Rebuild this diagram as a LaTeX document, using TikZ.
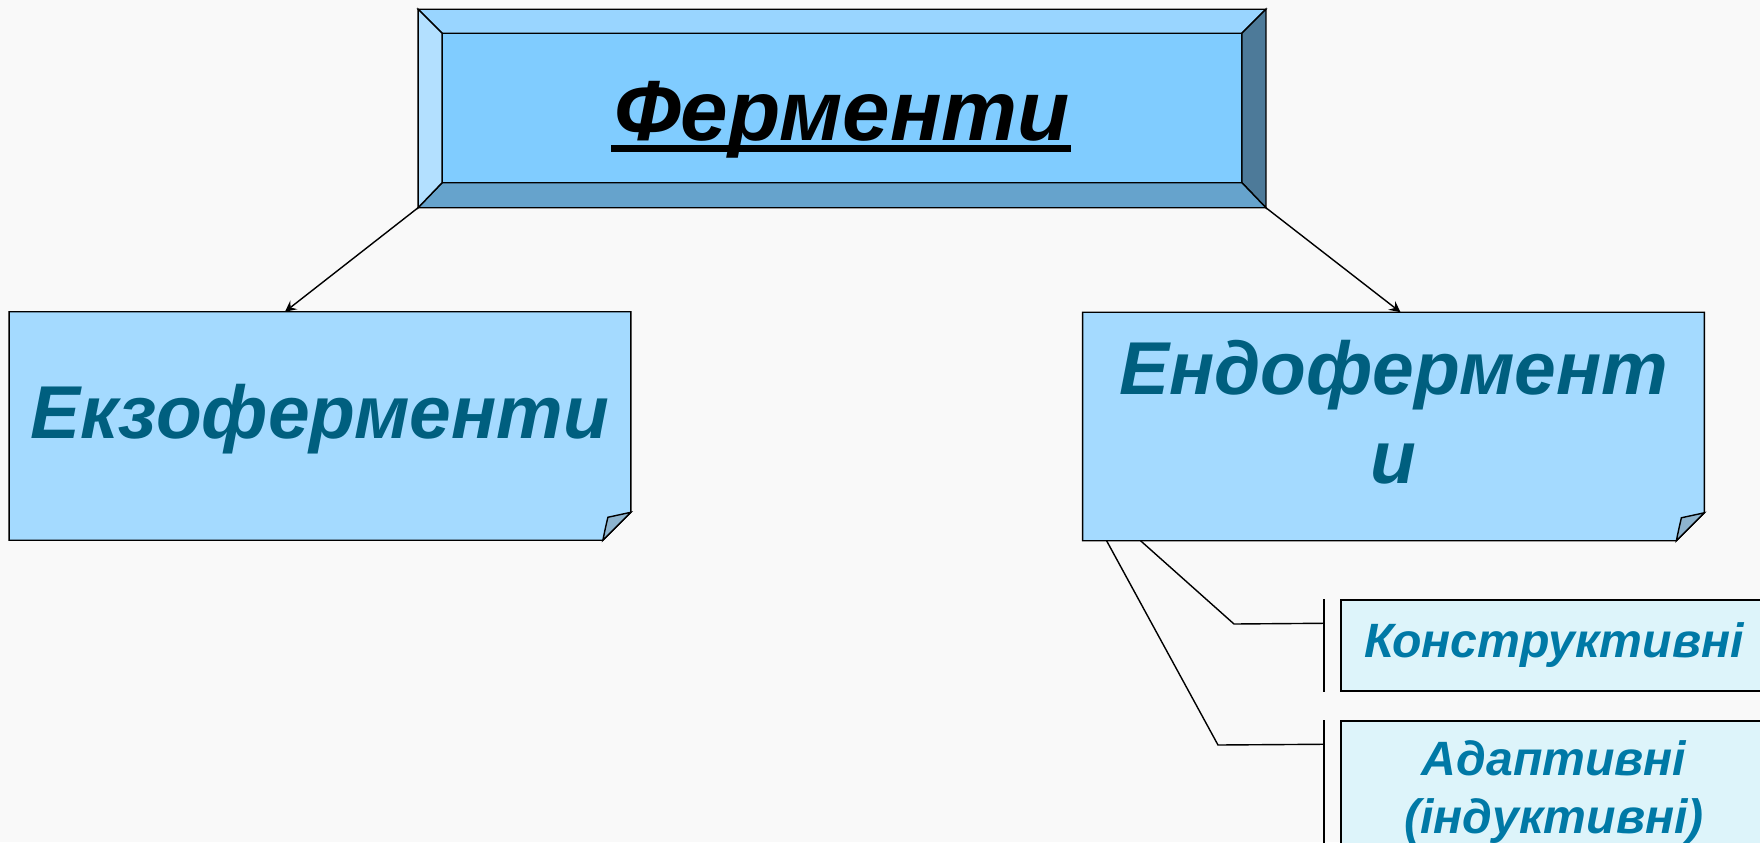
\documentclass[tikz,border=0pt]{standalone}
\usepackage{fontspec}
\setmainfont{Liberation Sans}
\usetikzlibrary{calc,backgrounds}
\definecolor{bgcol}{HTML}{F9F9F9}
\definecolor{bevtop}{HTML}{99D5FF}
\definecolor{bevleft}{HTML}{B3E0FF}
\definecolor{bevface}{HTML}{80CCFF}
\definecolor{bevbot}{HTML}{66A3CC}
\definecolor{bevright}{HTML}{4D7A99}
\definecolor{notefill}{HTML}{A4DAFF}
\definecolor{foldfill}{HTML}{8DB4CF}
\definecolor{notetext}{HTML}{005F7F}
\definecolor{smallfill}{HTML}{DDF4FA}
\definecolor{smalltext}{HTML}{0079A6}
\tikzset{
  notebox/.style={minimum width=6.2cm, minimum height=2.27cm, inner sep=0pt, align=center,
    text=notetext, font=\fontsize{21.3}{25.3}\selectfont\bfseries\itshape},
  smallbox/.style={draw, fill=smallfill, minimum width=4.26cm, inner sep=0pt, align=center,
    text=smalltext, font=\fontsize{13.7}{16.5}\selectfont\bfseries\itshape}
}
\begin{document}
\begin{tikzpicture}[x=0.01cm, y=-0.01cm, line width=0.6pt]
\begin{pgfonlayer}{background}
\fill[bgcol] (0,0) rectangle (1760,842);
\end{pgfonlayer}
\useasboundingbox (0,0) rectangle (1760,842);

\node[minimum width=8.46cm, minimum height=1.97cm, inner sep=0pt] (enz) at (842,108.5) {};
\node[inner sep=0pt, anchor=base, font=\fontsize{24.3}{28}\selectfont\bfseries\itshape] (title) at (842,140) {Ферменти};
\fill ($(title.base west)+(-2,5)$) rectangle ($(title.base east)+(0,12)$);
\node[notebox, text height=0.55cm, text depth=0.3cm] (exo) at (320,426) {Екзоферменти};
\node[notebox, text height=1.365cm, text depth=0.235cm] (endo) at (1393.5,426.5) {Ендофермент\\и};
\node[smallbox, minimum height=0.91cm] (konstr) at (1554,645.5) {Конструктивні};
\node[smallbox, minimum height=1.42cm] (adapt) at (1554,792) {Адаптивні\\(індуктивні)};

\begin{pgfonlayer}{background}
\coordinate (onw) at (enz.north west);
\coordinate (one) at (enz.north east);
\coordinate (ose) at (enz.south east);
\coordinate (osw) at (enz.south west);
\coordinate (inw) at ($(onw)+(24,24)$);
\coordinate (ine) at ($(one)+(-24,24)$);
\coordinate (ise) at ($(ose)+(-24,-25)$);
\coordinate (isw) at ($(osw)+(24,-25)$);
\filldraw[fill=bevface] (inw) rectangle (ise);
\foreach \p/\q/\col in {nw/ne/bevtop, ne/se/bevright, se/sw/bevbot, sw/nw/bevleft}
  \filldraw[fill=\col] (o\p) -- (o\q) -- (i\q) -- (i\p) -- cycle;
\foreach \n in {exo,endo} {
  \filldraw[fill=notefill] (\n.north west) -- (\n.north east) -- ($(\n.south east)+(0,-28)$)
    -- ($(\n.south east)+(-28,0)$) -- (\n.south west) -- cycle;
  \filldraw[fill=foldfill] ($(\n.south east)+(-28,0)$) .. controls ($(\n.south east)+(-26,-10)$) ..
    ($(\n.south east)+(-23,-23)$) -- ($(\n.south east)+(0,-28)$) -- cycle;
}
\end{pgfonlayer}

\draw[->, >=stealth] (enz.south west) -- ($(exo.north)+(-35,0)$);
\draw[->, >=stealth] (enz.south east) -- ($(endo.north)+(7,0)$);
\draw ($(endo.south west)+(58,0)$) -- (1234,624) -- ($(konstr.north west)+(-16,24)$);
\draw ($(endo.south west)+(24,0)$) -- (1218,745) -- ($(adapt.north west)+(-16,24)$);
\draw ($(konstr.north west)+(-16,0)$) -- ($(konstr.south west)+(-16,0)$);
\draw ($(adapt.north west)+(-16,0)$) -- ($(adapt.south west)+(-16,0)$);
\end{tikzpicture}
\end{document}
